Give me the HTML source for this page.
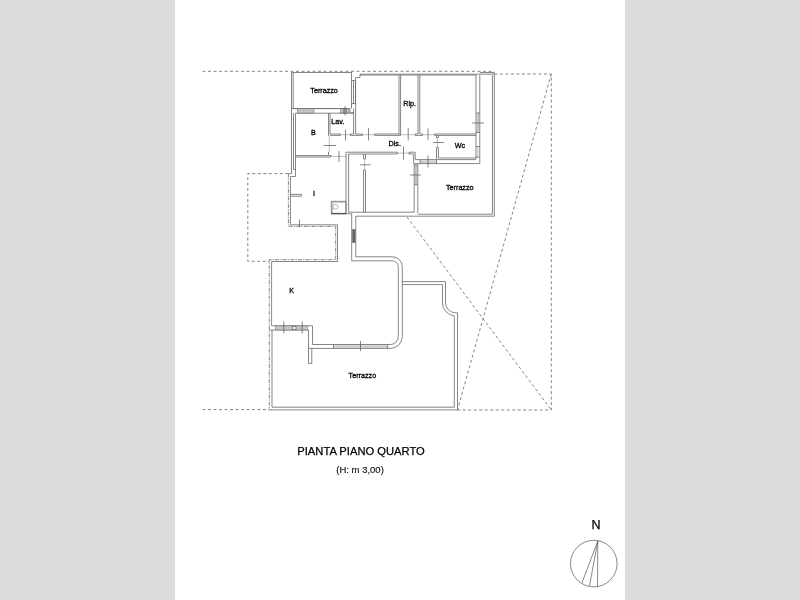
<!DOCTYPE html>
<html><head><meta charset="utf-8">
<style>
html,body{margin:0;padding:0;background:#dddddd;overflow:hidden}
body{width:800px;height:600px;position:relative}
#page{position:absolute;left:175px;top:0;width:450px;height:600px;background:#fff}
svg{position:absolute;left:0;top:0;filter:blur(0.35px)}
text{font-family:"Liberation Sans",Arial,sans-serif;fill:#111}
.w{fill:none;stroke:#707070;stroke-width:0.85}
.n{fill:none;stroke:#858585;stroke-width:0.55}
.t{fill:none;stroke:#555;stroke-width:0.7}
.d{fill:none;stroke:#777;stroke-width:0.9;stroke-dasharray:3 2.5}
.dd{fill:none;stroke:#777;stroke-width:0.9;stroke-dasharray:4 1.2 1.2 1.2}
.h{fill:#c4c4c4;stroke:#777;stroke-width:0.6}
.lb text{fill:#000;stroke:#000;stroke-width:0.3}
</style></head><body>
<div id="page"></div>
<svg width="800" height="600" viewBox="0 0 800 600">
<!-- dashed boundary -->
<g class="d">
<path d="M202.5 71.3H494.4"/>
<path d="M494.4 74H551.3V410H457.5"/>
<path d="M202.5 409.6H269"/>
<path d="M407 217L551.3 410"/>
<path d="M551.3 74L457.5 410"/>
<path d="M288.3 173.6H247.8V261.3H269.3"/>
</g>
<!-- walls -->
<g class="w" id="walls">
<!-- top-left terrazzo -->
<path d="M291.5 72.5V173.5H288.5M293.2 72.5V108.5M291.5 72.5H351.5M351.5 71.5V108.5M293.2 108.5H350"/>
<path d="M351.5 80.5H355.5V103.5H351.5M353.5 80.5V103.5"/>
<!-- wall between terrazzo and B -->
<path d="M291.5 108.6H350V112.8H353.8M295.5 113.2H353.8"/>
<rect class="h" x="297.5" y="108.8" width="16.5" height="4.2"/>
<rect class="h" x="340.5" y="108.8" width="8.5" height="4.2"/>
<!-- B room -->
<path d="M295.5 113.2V176.5H290.4V224.8M295.5 155.6H328.5M295.5 157H331M293.5 113.2V169.5H295.5"/>
<path d="M328.5 113.2V136M330 113.2V134M328.5 152V155.6H331V157"/>
<!-- Lav -->
<path d="M330 134H340.5V135.4H330M350.2 134H353.6M350.2 134V135.4H362.5V134H355.6"/>
<path d="M353.6 108.5V134M355.6 80.5V134"/>
<!-- bedroom1 notch & top wall -->
<path d="M355.6 80.5V77.5H360V74.2H493.8M360 75H476.5"/>
<!-- bedroom1 right / rip -->
<path d="M399 75.2V134M400.6 75.2V134M418 75.2V134M419.8 75.2V134"/>
<!-- room3 right wall -->
<path d="M476 75.2V159M479.8 75.2V163.6M476 113H479.8M476 132.5H479.8M476 146.5H479.8M476 157H479.8"/>
<!-- outer right terrazzo wall -->
<path d="M492.4 75.2V214.2M494.3 72.5V216.2M479.8 72.5H494.3"/>
<!-- corridor top line -->
<path d="M374.5 134H400.6M374.5 134V135.4H400.6V134M415 134H418M415 134V135.4H422.5V134H419.8M434.5 134V135.4H476M434.5 134H476"/>
<!-- wc -->
<path d="M436.5 135.4V137.5M438.4 135.4V137.5M436.5 137.5H438.4M436.5 147.5V159.6M438.4 147.5V158M436.5 147.5H438.4M438.4 158H476M436.5 159.6H476"/>
<!-- wall below wc -->
<path d="M414 163.6H479.8M420 159.6H436.5M420 159.6V163.6M436.5 159.6V163.6"/>
<!-- corridor bottom -->
<path d="M346 152.2H397.5V154H348.6M409 152.2H415.2M409 152.2V154H413.6M415.2 152.2V159.6H420M413.6 154V163.6"/>
<!-- inner room -->
<path d="M346 152.2V213.8M348.6 154V212.2M348.6 212.2H414.2M331 213.8H351.7M414.2 163.6V212.2M417.8 163.6V213.2M414.2 165H417.8M414.2 184.8H417.8"/>
<path d="M363.6 154V159H365.5V154M363.6 170V212.2M365.5 170V212.2M363.6 170H365.5"/>
<!-- right terrazzo bottom -->
<path d="M417.8 214.2H492.4M355.8 216.2H494.3"/>
<!-- room I stub -->
<path d="M290.4 194.4H301.5V196.2H290.4"/>
<!-- fixture -->
<path d="M331.3 201.3H346V213.8H331.3Z"/>
<path class="n" d="M333.2 204.5H335.8A2.2 2.2 0 0 1 335.8 208.9H333.2Z"/>
<path class="n" d="M332.3 213V202.3H346"/>
<path d="M331.3 213.4H346" style="stroke:#444"/>
<!-- corridor down and around K -->
<path d="M351.7 213.8V260.8H392.3A6 6 0 0 1 398.3 266.8V336.5A8 8 0 0 1 390.3 344.5H312.5V325.8"/>
<path d="M355.8 216.2V256.8H392.3A10 10 0 0 1 402.3 266.8V336.4A12 12 0 0 1 390.3 348.4H308.5V330"/>
<rect x="352.7" y="229.6" width="2.3" height="13" style="fill:#666;stroke:#555;stroke-width:0.6"/>
<!-- K room -->
<path d="M290.4 224.8H337.5V261.5H271.6V325.8H312.5M269.5 330H308.5M272 330V407.2H454.3M268.5 409.9H457.5"/>
<path d="M308.5 348.4V363.4H311.8V348.4"/>
<rect class="h" x="275.5" y="325.8" width="32" height="4.2"/>
<rect x="292.5" y="326.6" width="3.5" height="2.8" style="fill:#fff"/>
<!-- K bottom window -->
<path d="M333.5 344.5V348.4M387.7 344.5V348.4"/>
<!-- right terrace wall -->
<path d="M402.3 281.6H445.5V303A10 10 0 0 0 455.5 312.8H457.5V410"/>
<path d="M402.3 284.6H442.5V303A13 13 0 0 0 454.3 315.8V407.3"/>
</g>
<!-- thin door lines -->
<g class="n">
<path d="M333.5 345.9H387.7M333.5 347.1H387.7M420 161H436.5M420 162.3H436.5M477.3 113V132.5M478.6 113V132.5M477.9 146.5V157M415.4 165V184.8M416.6 165V184.8"/>
<path d="M329.3 136V152M331 156.3H346M340.5 134.7H350.2M362.5 134.7H374.5M400.6 134.7H415M422.5 134.7H434.5M437.4 137.5V147.5M397.5 153.1H409M364.6 159V170"/>
</g>
<!-- dashed walls of I room -->
<g class="dd">
<path d="M288.4 173.6V226.4H335.7V259.7H269.3V410"/>
</g>
<!-- door ticks -->
<g class="t">
<path d="M345 106V115.5M343.8 108V113.5M346.2 108V113.5"/>
<path d="M345.5 129.5V140.5M323.5 145.5H336M339 151V162"/>
<path d="M368.5 128V140.5M408.2 128V140.5M428 128.5V140M433 142.5H444"/>
<path d="M360 164.8H370.5M403.5 146.5V159.5M428 155.5V167.5M472 123H484M410 175H421"/>
<path d="M283.8 321.5V333.5M302.2 321.5V333.5M360.5 341V351M299.5 219.5V227"/>
</g>
<!-- compass -->
<g class="t">
<circle cx="593.8" cy="563.6" r="23.3"/>
<path d="M597.8 541L582 582.8M597.8 541L589.5 585.8M597.8 541L597.5 586.7"/>
</g>
<g font-size="7.2" class="lb">
<text x="310.3" y="92.6">Terrazzo</text>
<text x="311" y="135">B</text>
<text x="331.3" y="124">Lav.</text>
<text x="403.3" y="105.8">Rip.</text>
<text x="388.5" y="146">Dis.</text>
<text x="454.8" y="148.3">Wc</text>
<text x="446" y="189.8">Terrazzo</text>
<text x="313" y="195.5">I</text>
<text x="289.2" y="293.2">K</text>
<text x="348.6" y="378">Terrazzo</text>
</g>
<text x="297.3" y="455.2" font-size="11.2" style="fill:#000;stroke:#000;stroke-width:0.25">PIANTA PIANO QUARTO</text>
<text x="336.3" y="472.8" font-size="9.5" style="fill:#111;stroke:#111;stroke-width:0.15">(H: m 3,00)</text>
<text x="591.5" y="529.3" font-size="12.5" style="fill:#000;stroke:#000;stroke-width:0.25">N</text>
</svg>
</body></html>
